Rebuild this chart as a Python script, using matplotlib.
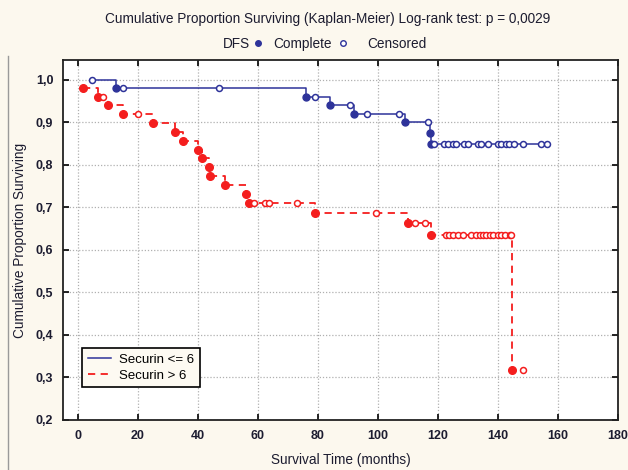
import numpy as np
import matplotlib
matplotlib.use("Agg")
import matplotlib.pyplot as plt
from matplotlib.lines import Line2D
from matplotlib.ticker import FuncFormatter

plt.rcParams['font.family'] = ['Liberation Sans', 'DejaVu Sans']

# Securin <= 6 : step curve, events (complete) and censored cases
low_curve_t = [4.8, 12.7, 76.1, 84.0, 92.0, 109.0, 117.4, 117.7, 156.2]
low_curve_s = [1.00, 0.980, 0.960, 0.940, 0.920, 0.900, 0.875, 0.850, 0.850]
low_event_t = [12.7, 76.1, 84.0, 92.0, 109.0, 117.4, 117.7]
low_event_s = [0.980, 0.960, 0.940, 0.920, 0.900, 0.875, 0.850]
low_cens_t = [4.8, 15.0, 47.0, 79.0, 90.6, 96.5, 107.0, 116.6,
              118.8, 122.0, 123.3, 125.0, 126.0, 128.8, 130.0, 133.3, 134.4,
              136.7, 140.0, 141.1, 142.8, 143.8, 145.5, 148.4, 154.5, 156.2]
low_cens_s = [1.00, 0.980, 0.980, 0.960, 0.940, 0.920, 0.920, 0.900] + [0.850] * 18

# Securin > 6
high_curve_t = [1.6, 6.8, 10.1, 14.9, 24.9, 32.2, 34.9, 39.9, 41.4, 43.8, 43.9,
                48.9, 56.0, 57.1, 78.9, 109.9, 117.7, 144.8, 148.5]
high_curve_s = [0.981, 0.961, 0.940, 0.920, 0.899, 0.878, 0.857, 0.836, 0.816,
                0.795, 0.775, 0.753, 0.732, 0.711, 0.687, 0.664, 0.636, 0.318, 0.318]
high_event_t = [1.6, 6.8, 10.1, 14.9, 24.9, 32.2, 34.9, 39.9, 41.4, 43.8, 43.9,
                48.9, 56.0, 57.1, 78.9, 109.9, 117.7, 144.8]
high_event_s = [0.981, 0.961, 0.940, 0.920, 0.899, 0.878, 0.857, 0.836, 0.816,
                0.795, 0.775, 0.753, 0.732, 0.711, 0.687, 0.664, 0.636, 0.318]
high_cens_t = [8.5, 20.1, 58.6, 62.2, 63.6, 73.1, 99.3, 112.5, 115.8,
               122.7, 123.8, 125.0, 126.7, 128.5, 131.1, 132.8, 133.9, 135.0,
               136.1, 137.2, 138.4, 140.0, 141.1, 142.2, 143.9, 144.5, 148.5]
high_cens_s = [0.961, 0.920, 0.711, 0.711, 0.711, 0.711, 0.687, 0.664, 0.664] \
    + [0.636] * 17 + [0.318]

blue = '#2e339a'
red = '#f41e1e'
bg = '#fcf8ee'
txt = '#1c1c30'

fig = plt.figure(figsize=(6.28, 4.70), dpi=100, facecolor=bg)
ax = fig.add_axes([0.1003, 0.1064, 0.8837, 0.7659])
ax.set_facecolor('white')

ax.step(low_curve_t, low_curve_s, where='post', color=blue, lw=1.1,
        label='Securin <= 6')
ax.step(high_curve_t, high_curve_s, where='post', color=red, lw=1.3,
        linestyle=(0, (4, 3)), label='Securin > 6')

ax.plot(low_event_t, low_event_s, 'o', color=blue, ms=5, ls='none')
ax.plot(low_cens_t, low_cens_s, 'o', mfc='white', mec=blue, mew=1.1, ms=4.3, ls='none')
ax.plot(high_event_t, high_event_s, 'o', color=red, ms=5.5, ls='none')
ax.plot(high_cens_t, high_cens_s, 'o', mfc='white', mec=red, mew=1.1, ms=4.3, ls='none')

ax.set_xlim(-5, 180)
ax.set_ylim(0.2, 1.047)
ax.set_xticks(np.arange(0, 181, 20))
ax.set_yticks(np.arange(0.2, 1.01, 0.1))
ax.yaxis.set_major_formatter(FuncFormatter(lambda v, p: f'{v:.1f}'.replace('.', ',')))
ax.tick_params(direction='in', top=True, right=True, length=4, width=1.2,
               labelsize=9, labelcolor=txt, pad=7)
for lab in ax.get_xticklabels() + ax.get_yticklabels():
    lab.set_fontweight('bold')
ax.grid(True, color='#b0b0b0', linestyle=(0, (1, 1.5)), lw=0.9)
for s in ax.spines.values():
    s.set_linewidth(1.3)
    s.set_color('#222222')

ax.set_xlabel('Survival Time (months)', fontsize=9.8, color=txt, labelpad=8)
ax.set_ylabel('Cumulative Proportion Surviving', fontsize=9.8, color=txt, labelpad=6)

leg = ax.legend(loc='lower left', bbox_to_anchor=(0.022, 0.072), fontsize=9.5,
                frameon=True, fancybox=False, edgecolor='black',
                facecolor='#fdfaf2', handlelength=1.8, handletextpad=0.6,
                borderpad=0.45, labelspacing=0.25)
leg.get_frame().set_linewidth(1.2)
leg.get_frame().set_alpha(1)

fig.text(0.522, 0.96, 'Cumulative Proportion Surviving (Kaplan-Meier) Log-rank test: p = 0,0029',
         ha='center', va='center', fontsize=9.8, color=txt)
fig.text(0.355, 0.906, 'DFS', ha='left', va='center', fontsize=9.8, color=txt)
fig.text(0.435, 0.906, 'Complete', ha='left', va='center', fontsize=9.8, color=txt)
fig.text(0.584, 0.906, 'Censored', ha='left', va='center', fontsize=9.8, color=txt)
fig.add_artist(Line2D([0.411], [0.909], marker='o', color=blue, ms=4,
                      transform=fig.transFigure))
fig.add_artist(Line2D([0.546], [0.909], marker='o', mfc='white', mec=blue, mew=1,
                      ms=4, transform=fig.transFigure))
fig.add_artist(Line2D([0.013, 0.013], [0.0, 0.88], color='#9a9a9a', lw=1,
                      transform=fig.transFigure))

fig.savefig('out.png', dpi=100, facecolor=bg)
